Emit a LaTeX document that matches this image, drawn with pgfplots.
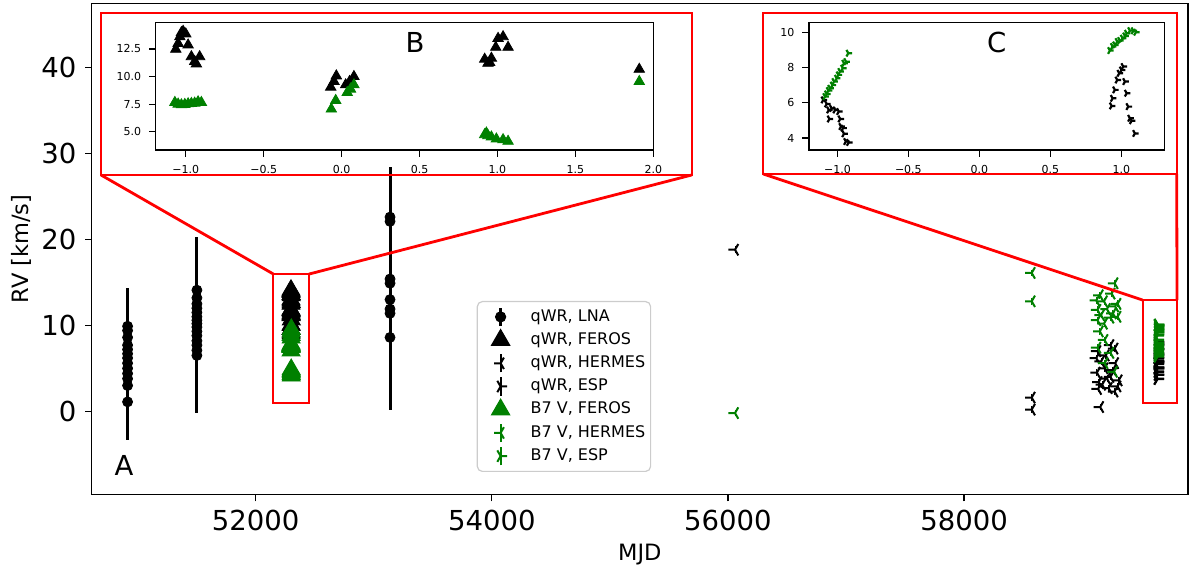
\documentclass[border=0pt]{standalone}
\usepackage{fontspec}
\setmainfont{DejaVu Sans}
\usepackage{pgfplots}
\pgfplotsset{compat=1.18}
\usepackage{pgfplotstable}

\definecolor{mplgreen}{HTML}{008000}
\definecolor{legframe}{HTML}{CCCCCC}

\pgfdeclareplotmark{trileft}{%
 \pgfpathmoveto{\pgfpointorigin}\pgfpathlineto{\pgfqpoint{-\pgfplotmarksize}{0pt}}%
 \pgfpathmoveto{\pgfpointorigin}\pgfpathlineto{\pgfpointpolar{60}{\pgfplotmarksize}}%
 \pgfpathmoveto{\pgfpointorigin}\pgfpathlineto{\pgfpointpolar{-60}{\pgfplotmarksize}}%
 \pgfusepathqstroke}
\pgfdeclareplotmark{triright}{%
 \pgfpathmoveto{\pgfpointorigin}\pgfpathlineto{\pgfqpoint{\pgfplotmarksize}{0pt}}%
 \pgfpathmoveto{\pgfpointorigin}\pgfpathlineto{\pgfpointpolar{120}{\pgfplotmarksize}}%
 \pgfpathmoveto{\pgfpointorigin}\pgfpathlineto{\pgfpointpolar{240}{\pgfplotmarksize}}%
 \pgfusepathqstroke}

% qWR LNA
\pgfplotstableread{
x y e
50915 9.9 4.4
50915 9.4 4.4
50915 8.6 4.4
50915 7.7 4.4
50915 7.2 4.4
50915 6.7 4.4
50915 6.2 4.4
50915 5.6 4.4
50915 5.0 4.4
50915 4.4 4.4
50915 3.8 4.4
50915 3.0 4.4
50915 1.1 4.4
51502 14.1 6.2
51502 13.2 6.3
51502 12.5 6.3
51502 12.0 6.3
51502 11.5 6.3
51502 11.0 6.3
51502 10.6 6.3
51502 10.2 6.3
51502 9.8 6.3
51502 9.3 6.3
51502 8.8 6.3
51502 8.2 6.3
51502 7.7 6.3
51502 7.1 6.3
51502 6.5 6.7
53138 22.6 5.8
53138 22.1 6.0
53138 15.4 7.0
53138 14.9 7.0
53138 13.0 7.5
53138 11.9 7.0
53138 11.4 7.0
53138 8.6 8.4
}\lna

% FEROS, days around MJD 52300
\pgfplotstableread{
dx y
-1.064 12.47
-1.049 13.00
-1.038 13.60
-1.028 13.98
-1.017 14.10
-1.000 13.86
-0.985 12.86
-0.964 11.80
-0.943 11.36
-0.932 11.14
-0.911 11.80
-0.070 9.04
-0.049 9.55
-0.034 10.06
0.026 9.25
0.051 9.55
0.079 10.00
0.918 11.57
0.939 11.20
0.950 11.27
0.961 11.66
0.989 12.65
1.004 13.46
1.036 13.61
1.068 12.65
1.910 10.66
}\ferosq
\pgfplotstableread{
dx y
-1.070 7.65
-1.049 7.50
-1.028 7.44
-1.006 7.47
-0.985 7.53
-0.964 7.56
-0.943 7.59
-0.921 7.71
-0.900 7.65
-0.066 7.05
-0.038 7.83
0.036 8.55
0.057 8.86
0.079 9.25
0.918 4.73
0.929 4.88
0.939 4.64
0.961 4.52
0.993 4.34
1.036 4.28
1.068 4.13
1.910 9.55
}\ferosb

% HERMES
\pgfplotstableread{
x y e
56060 18.8 0.4
58573 1.6 0.4
58573 0.2 0.4
59153 0.5 0.4
59120 6.2 0.4
59130 7.0 0.4
59240 7.7 0.4
59275 7.3 0.4
59200 6.5 0.4
59160 5.8 0.4
59280 5.6 0.4
59190 5.0 0.4
59125 4.5 0.4
59240 4.0 0.4
59310 3.6 0.4
59170 3.1 0.4
59225 2.7 0.4
59275 2.3 0.4
59140 3.4 0.4
59260 4.8 0.4
59300 2.9 0.4
59210 3.8 0.4
59135 2.6 0.4
}\hermesq
\pgfplotstableread{
x y e
56060 -0.2 0.4
58573 16.1 0.4
58573 12.8 0.4
59275 14.9 0.4
59150 13.5 0.4
59120 12.9 0.4
59185 12.8 0.4
59250 13.7 0.4
59300 12.5 0.4
59130 11.8 0.4
59210 11.9 0.4
59260 11.4 0.4
59160 11.2 0.4
59240 10.9 0.4
59130 10.6 0.4
59185 10.2 0.4
59150 9.3 0.4
59190 8.3 0.4
59130 7.4 0.4
59240 6.8 0.4
59190 5.6 0.4
59270 4.6 0.4
59280 12.2 0.4
59300 11.0 0.4
}\hermesb

% ESP, days around MJD 59640
\pgfplotstableread{
dx y
-1.099 6.16
-1.075 5.93
-1.060 5.59
-1.040 5.68
-1.016 5.59
-0.990 5.50
-1.056 5.08
-0.980 5.08
-0.974 4.65
-0.960 4.56
-0.953 4.24
-0.940 3.80
-0.920 3.75
1.014 8.05
1.002 7.86
0.986 7.67
0.972 7.29
1.026 7.20
0.955 6.73
1.038 6.54
0.939 6.25
0.932 5.82
1.049 5.78
1.061 5.12
1.073 4.98
1.096 4.26
}\espq
\pgfplotstableread{
dx y
-1.087 6.35
-1.075 6.50
-1.063 6.69
-1.052 6.82
-1.035 7.00
-1.023 7.20
-1.005 7.39
-0.993 7.58
-0.981 7.77
-0.962 7.96
-0.953 8.24
-0.939 8.33
-0.923 8.81
0.920 8.96
0.939 9.19
0.955 9.28
0.972 9.47
0.990 9.53
1.009 9.66
1.026 9.79
1.038 9.94
1.061 10.09
1.085 10.08
1.103 10.00
}\espb

\pgfplotsset{
  legmark/.style={legend image code/.code={%
    \path[draw=none,fill=none,sharp corners] (0pt,-3pt) rectangle (18pt,3pt);
    \draw[overlay,sharp corners,mark repeat=2,mark phase=2] plot coordinates {(0pt,0pt) (9pt,0pt) (18pt,0pt)};}},
  legbar/.style={legend image code/.code={%
    \path[draw=none,fill=none,sharp corners] (0pt,-3pt) rectangle (18pt,3pt);
    \draw[overlay,sharp corners,line width=#1] (9pt,-4.6pt) -- (9pt,4.6pt);
    \draw[overlay,sharp corners,mark repeat=2,mark phase=2] plot coordinates {(0pt,0pt) (9pt,0pt) (18pt,0pt)};}},
}

\begin{document}
\begin{tikzpicture}
\useasboundingbox (0pt,0pt) rectangle (595pt,284.5pt);

\begin{axis}[
  at={(45.85pt,37.15pt)}, anchor=south west, scale only axis,
  width=548.15pt, height=245.7pt,
  xmin=50611, xmax=59897, ymin=-9.70, ymax=47.47,
  scaled x ticks=false, scaled y ticks=false,
  axis line style={line width=0.6pt},
  xtick={52000,54000,56000,58000}, xticklabels={52000,54000,56000,58000},
  ytick={0,10,20,30,40}, yticklabels={0,10,20,30,40},
  tick pos=left, tick align=outside, major tick length=3.3pt,
  every tick/.style={black, line width=0.6pt},
  ticklabel style={font=\fontsize{13.75}{16}\selectfont, inner sep=0pt},
  xticklabel shift=4.3pt, yticklabel shift=4.15pt,
  xlabel={MJD}, ylabel={RV [km/s]},
  label style={font=\fontsize{11.25}{13}\selectfont},
  xlabel style={at={(axis description cs:0.5,-0.1227)}, anchor=center},
  ylabel style={at={(axis description cs:-0.06385,0.5)}, anchor=center},
  legend cell align=left,
  legend style={at={(axis description cs:0.3512,0.3942)}, anchor=north west,
    draw=legframe, line width=0.6pt, rounded corners=2.5pt, fill=white,
    font=\fontsize{8}{9.6}\selectfont,
    inner xsep=2.65pt, inner ysep=3.8pt, row sep=3.9pt,
    nodes={inner sep=0pt, text height=6pt, text depth=1.7pt}},
  legend style={/tikz/column 2/.style={column sep=0pt}, /tikz/column 1/.style={column sep=6pt}},
]
\addplot[only marks, mark=*, mark size=2.5pt, black, legbar=1.5pt,
  error bars/.cd, y dir=both, y explicit, error mark=none,
  error bar style={line width=1.5pt}]
  table[x=x, y=y, y error=e]{\lna};
\addlegendentry{qWR, LNA}
\addplot[only marks, mark=triangle*, mark size=5.2pt, black, legmark]
  table[x expr=\thisrow{dx}+52300, y=y]{\ferosq};
\addlegendentry{qWR, FEROS}
\addplot[only marks, mark=trileft, mark size=3.3pt, black, line width=1pt, legbar=1pt,
  error bars/.cd, y dir=both, y explicit, error mark=none]
  table[x=x, y=y, y error=e]{\hermesq};
\addlegendentry{qWR, HERMES}
\addplot[only marks, mark=triright, mark size=3.3pt, black, line width=1pt, legbar=1pt]
  table[x expr=\thisrow{dx}+59640, y=y]{\espq};
\addlegendentry{qWR, ESP}
\addplot[only marks, mark=triangle*, mark size=5.2pt, mplgreen, legmark]
  table[x expr=\thisrow{dx}+52300, y=y]{\ferosb};
\addlegendentry{B7 V, FEROS}
\addplot[only marks, mark=trileft, mark size=3.3pt, mplgreen, line width=1pt, legbar=1pt,
  error bars/.cd, y dir=both, y explicit, error mark=none]
  table[x=x, y=y, y error=e]{\hermesb};
\addlegendentry{B7 V, HERMES}
\addplot[only marks, mark=triright, mark size=3.3pt, mplgreen, line width=1pt, legbar=1pt]
  table[x expr=\thisrow{dx}+59640, y=y]{\espb};
\addlegendentry{B7 V, ESP}

\draw[red, line width=1pt] (axis cs:52150,0.93) rectangle (axis cs:52452,15.97);
\draw[red, line width=1pt] (axis cs:59512,0.93) rectangle (axis cs:59804,12.95);
\coordinate (bL) at (axis cs:52150,15.97);
\coordinate (bR) at (axis cs:52452,15.97);
\coordinate (cL) at (axis cs:59512,12.95);
\coordinate (cR) at (axis cs:59804,12.95);
\end{axis}

\draw[red, line width=1.4pt] (50.5pt,197pt) -- (bL);
\draw[red, line width=1.4pt] (345.85pt,197pt) -- (bR);
\draw[red, line width=1.4pt] (381.65pt,197.5pt) -- (cL);
\draw[red, line width=1.4pt] (588.35pt,197.5pt) -- (cR);
\draw[red, line width=1pt] (50.5pt,197pt) rectangle (345.85pt,278.15pt);
\draw[red, line width=1pt] (381.65pt,197.5pt) rectangle (588.35pt,278.15pt);

\node[font=\fontsize{13.75}{16}\selectfont] at (62pt,51.75pt) {A};

% inset B
\begin{axis}[
  at={(77.85pt,209.5pt)}, anchor=south west, scale only axis,
  width=248.8pt, height=63.65pt,
  xmin=-1.193, xmax=2.0, ymin=3.34, ymax=14.88,
  axis line style={line width=0.6pt},
  xtick={-1,-0.5,0,0.5,1,1.5,2}, xticklabels={−1.0,−0.5,0.0,0.5,1.0,1.5,2.0},
  ytick={5,7.5,10,12.5}, yticklabels={5.0,7.5,10.0,12.5},
  tick pos=left, tick align=outside, major tick length=3.3pt,
  every tick/.style={black, line width=0.6pt},
  ticklabel style={font=\fontsize{5.5}{6.6}\selectfont, inner sep=0pt},
  xticklabel shift=4.2pt, yticklabel shift=3.8pt,
]
\addplot[only marks, mark=triangle*, mark size=3pt, black] table[x=dx, y=y]{\ferosq};
\addplot[only marks, mark=triangle*, mark size=3pt, mplgreen] table[x=dx, y=y]{\ferosb};
\end{axis}
\node[font=\fontsize{13.75}{16}\selectfont] at (207.5pt,263.5pt) {B};

% inset C
\begin{axis}[
  at={(404.5pt,209.5pt)}, anchor=south west, scale only axis,
  width=177.65pt, height=63.65pt,
  xmin=-1.2, xmax=1.303, ymin=3.32, ymax=10.54,
  axis line style={line width=0.6pt},
  xtick={-1,-0.5,0,0.5,1}, xticklabels={−1.0,−0.5,0.0,0.5,1.0},
  ytick={4,6,8,10}, yticklabels={4,6,8,10},
  tick pos=left, tick align=outside, major tick length=3.3pt,
  every tick/.style={black, line width=0.6pt},
  ticklabel style={font=\fontsize{5.5}{6.6}\selectfont, inner sep=0pt},
  xticklabel shift=4.2pt, yticklabel shift=3.8pt,
]
\addplot[only marks, mark=triright, mark size=1.9pt, black, line width=1.1pt] table[x=dx, y=y]{\espq};
\addplot[only marks, mark=triright, mark size=1.9pt, mplgreen, line width=1.1pt] table[x=dx, y=y]{\espb};
\end{axis}
\node[font=\fontsize{13.75}{16}\selectfont] at (498.35pt,263.15pt) {C};
\end{tikzpicture}
\end{document}
